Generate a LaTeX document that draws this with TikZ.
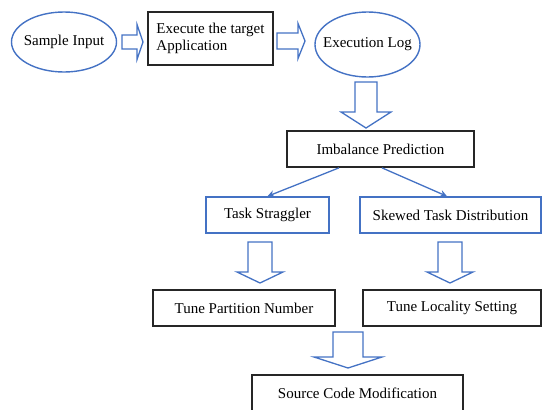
\documentclass[tikz,border=0pt]{standalone}
\usepackage{fontspec}
\setmainfont{Liberation Serif}
\usepackage{tikz}
\usetikzlibrary{shapes.geometric, arrows.meta}
\usepackage{xcolor}

\definecolor{flowblue}{RGB}{68,114,196}

% hollow block arrows (x, y from, tip, shaft half width, head half width, head length)
\newcommand{\blockright}[6]{%
  \draw[blockarrow] (#1,#2-#4) -- (#3-#6,#2-#4) -- (#3-#6,#2-#5) -- (#3,#2)
    -- (#3-#6,#2+#5) -- (#3-#6,#2+#4) -- (#1,#2+#4) -- cycle;}
\newcommand{\blockdown}[6]{%
  \draw[blockarrow] (#1-#4,#2) -- (#1-#4,#3-#6) -- (#1-#5,#3-#6) -- (#1,#3)
    -- (#1+#5,#3-#6) -- (#1+#4,#3-#6) -- (#1+#4,#2) -- cycle;}

\begin{document}
\begin{tikzpicture}[x=1pt, y=-1pt,
    txt/.style={font=\fontsize{15}{17}\selectfont},
    ovalline/.style={draw=flowblue, line width=1.4pt},
    blackbox/.style={txt, rectangle, draw=black!85, line width=1.7pt, inner sep=0pt},
    bluebox/.style={txt, rectangle, draw=flowblue, line width=1.4pt, inner sep=0pt},
    blockarrow/.style={draw=flowblue, line width=1.3pt, fill=white, line join=miter},
    link/.style={draw=flowblue, line width=1.3pt, -{Stealth[length=7pt, width=7pt]}}]
    \useasboundingbox (0,0) rectangle (542,410);

    % top row
    \node[txt] (input) at (64,42) {Sample Input};
    \draw[ovalline] (input.center) ellipse [x radius=52.5pt, y radius=30pt];
    \node[blackbox, minimum width=125pt, minimum height=53pt, align=left] (exec) at (210.5,38.5)
        {Execute the target\\Application};
    \node[txt] (log) at (367.5,44.5) {Execution Log};
    \draw[ovalline] (log.center) ellipse [x radius=52.5pt, y radius=32.5pt];
    \blockright{122}{42}{143}{7}{17.5}{6}
    \blockright{277}{41}{305}{8}{17.5}{7}
    \blockdown{366}{82}{128}{11}{25}{16}

    % prediction
    \node[blackbox, minimum width=187pt, minimum height=36pt] (imb) at (380.5,149) {Imbalance Prediction};
    \node[bluebox, minimum width=123pt, minimum height=36pt] (strag) at (267.5,215) {Task Straggler};
    \node[bluebox, minimum width=181pt, minimum height=36pt] (skew) at (450.5,215) {Skewed Task Distribution};
    \draw[link] ([xshift=-41.5pt]imb.south) -- (strag.north);
    \draw[link] ([xshift=1.5pt]imb.south) -- ([xshift=-3.5pt]skew.north);

    % tuning
    \blockdown{260}{242}{283}{12}{23}{11}
    \blockdown{450}{242}{283}{12}{23}{11}
    \node[blackbox, minimum width=182pt, minimum height=36pt] (part) at (244,308) {Tune Partition Number};
    \node[blackbox, minimum width=178pt, minimum height=36pt] (local) at (452,308) {Tune Locality Setting};
    \blockdown{348}{332}{368}{15}{34}{11}
    \node[blackbox, minimum width=211pt, minimum height=36pt] (src) at (357.5,393) {Source Code Modification};
\end{tikzpicture}
\end{document}
